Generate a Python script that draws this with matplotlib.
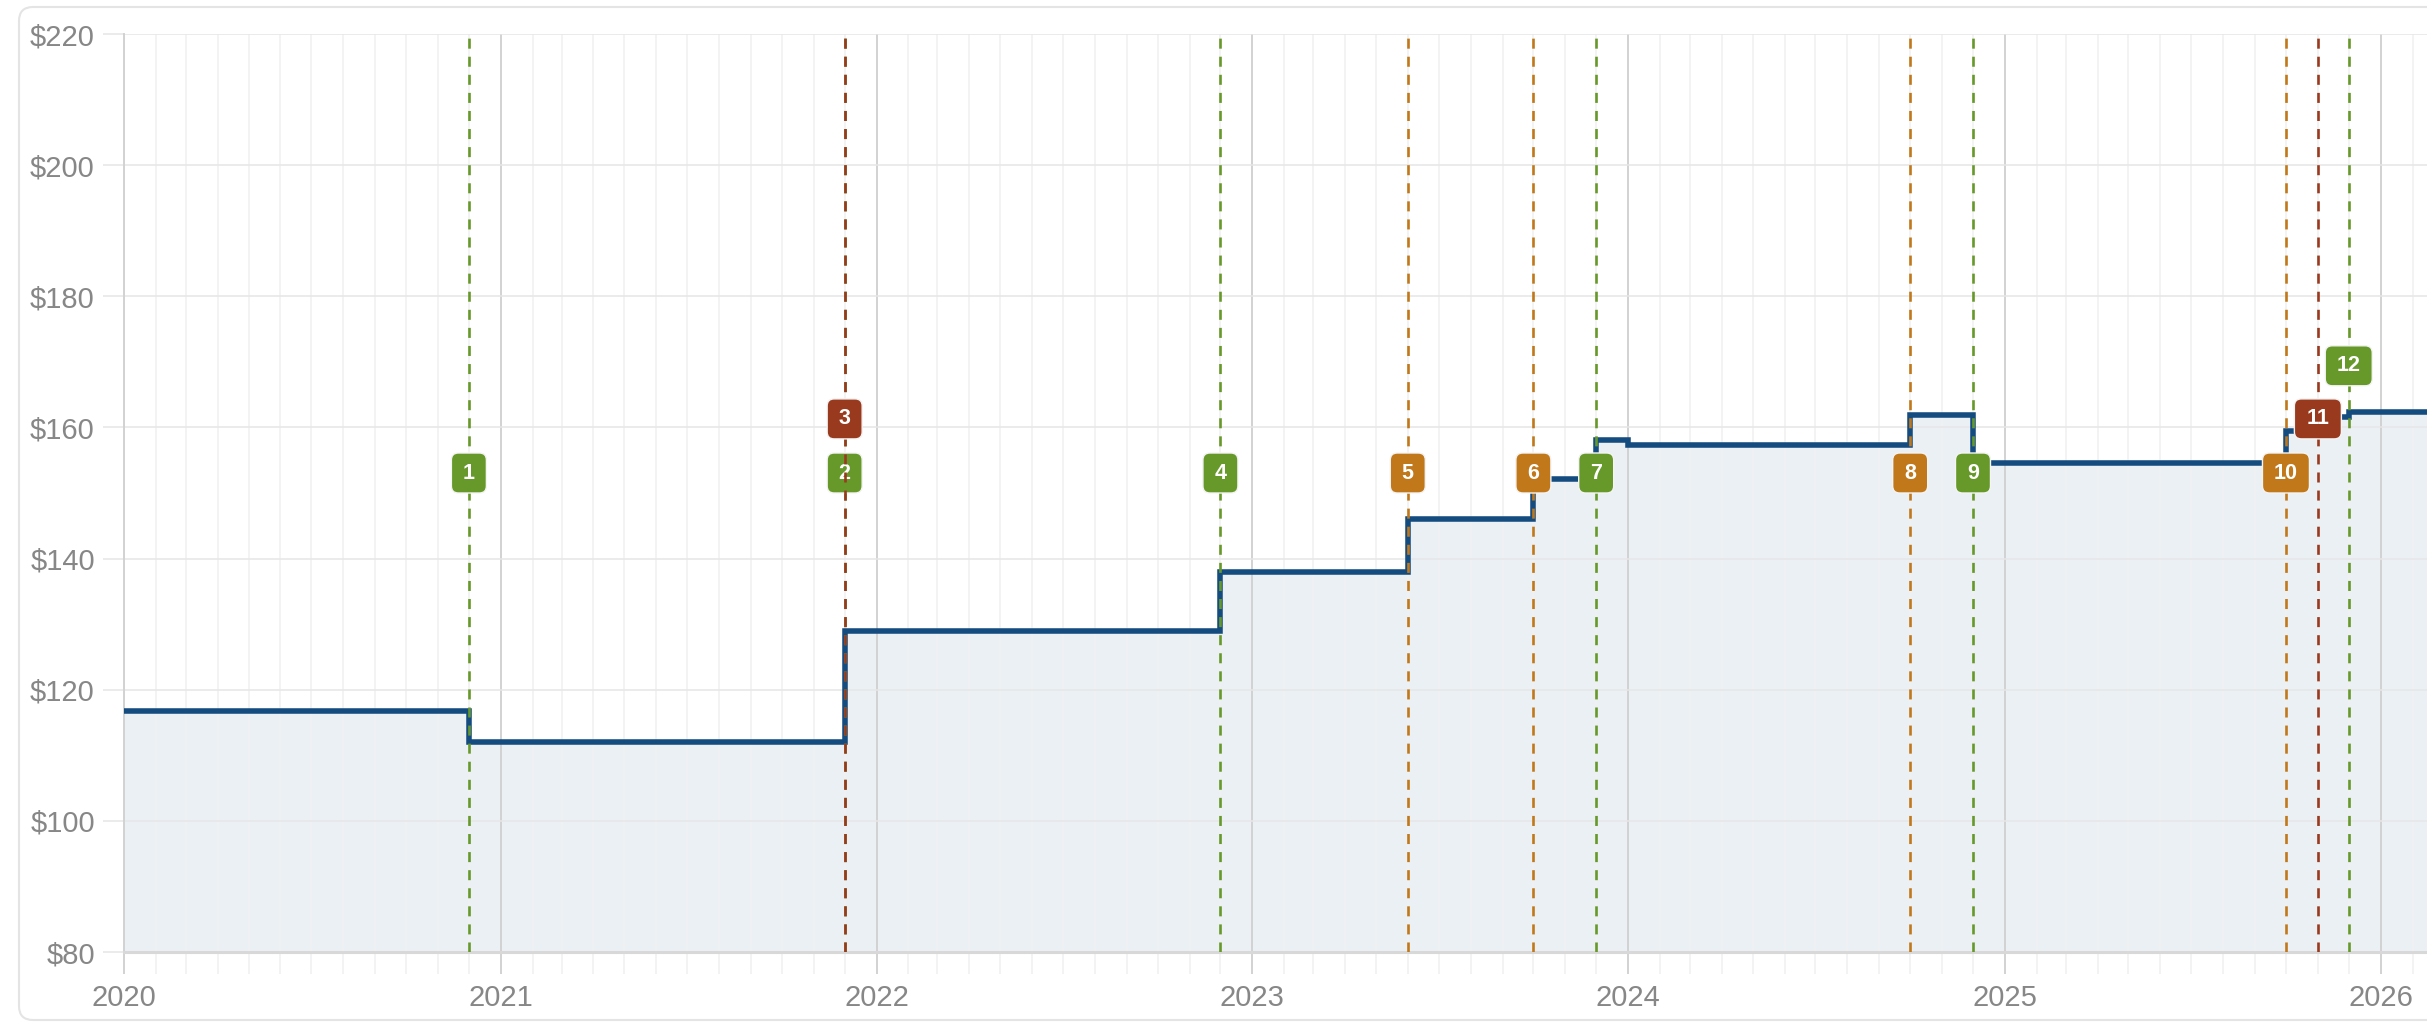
import numpy as np
import matplotlib
matplotlib.use("Agg")
import matplotlib.pyplot as plt
import matplotlib.dates as mdates
import matplotlib.transforms as mtransforms
from matplotlib.patches import FancyBboxPatch
from matplotlib.ticker import FuncFormatter, MultipleLocator
from datetime import datetime

# price steps (value holds from each date until the next one)
step_dates = ["2020-01-01", "2020-12-01", "2021-12-01", "2022-12-01", "2023-06-01",
              "2023-10-01", "2023-12-01", "2024-01-01", "2024-10-01", "2024-12-01",
              "2025-10-01", "2025-11-01", "2025-12-01"]
step_prices = [116.8, 112.1, 129.0, 138.0, 146.0, 152.1, 158.1, 157.3, 161.9, 154.5,
               159.5, 161.6, 162.4]
end_date = "2026-02-15"

# numbered events
event_nums = [1, 2, 3, 4, 5, 6, 7, 8, 9, 10, 11, 12]
event_dates = ["2020-12-01", "2021-12-01", "2021-12-01", "2022-12-01", "2023-06-01",
               "2023-10-01", "2023-12-01", "2024-10-01", "2024-12-01", "2025-10-01",
               "2025-11-01", "2025-12-01"]
event_kinds = ["green", "green", "red", "green", "orange", "orange", "green", "orange",
               "green", "orange", "red", "green"]
event_tiers = [0, 0, 1, 0, 0, 0, 0, 0, 0, 0, 1, 2]
tier_y = [153.05, 161.3, 169.4]

kind_colors = {"green": "#67992a", "orange": "#c0781a", "red": "#993a1f"}
label_color = "#878787"

plt.rcParams['font.family'] = ['Liberation Sans', 'DejaVu Sans']

W, H = 2427, 1022
fig = plt.figure(figsize=(W / 100, H / 100), dpi=100)
ax = fig.add_axes([124 / W, 70 / H, 1 - 124 / W, (952 - 34) / H])

# card border
card = FancyBboxPatch((19, 2), 2600, 1013, boxstyle="round,pad=0,rounding_size=14",
                      transform=mtransforms.IdentityTransform(), fill=False,
                      edgecolor="#e4e4e4", linewidth=1.5)
fig.patches.append(card)

x = [datetime.fromisoformat(d) for d in step_dates] + [datetime.fromisoformat(end_date)]
y = step_prices + [step_prices[-1]]

ax.fill_between(x, 80, y, step="post", color="#ebf0f5", zorder=1, linewidth=0)
ax.plot(x, y, drawstyle="steps-post", color="#154c80", linewidth=4.0, zorder=3,
        solid_joinstyle="miter")

z = 4
for n, d, k, t in zip(event_nums, event_dates, event_kinds, event_tiers):
    xd = datetime.fromisoformat(d)
    xn = mdates.date2num(xd)
    c = kind_colors[k]
    ax.axvline(xd, color=c, linewidth=1.9, dashes=(3.8, 3.05), zorder=z)
    w = 35 if n < 10 else 47
    trans = mtransforms.IdentityTransform() + mtransforms.ScaledTranslation(xn, tier_y[t], ax.transData)
    box = FancyBboxPatch((-w / 2, -20), w, 40, boxstyle="round,pad=0,rounding_size=7",
                         transform=trans, facecolor=c, edgecolor="#f4f4f4",
                         linewidth=1.0, zorder=z + 1, clip_on=False)
    ax.add_patch(box)
    ax.text(xn, tier_y[t], str(n), ha="center", va="center", color="white",
            fontsize=15.5, fontweight="bold", zorder=z + 1.5)
    z += 2

ax.set_xlim(datetime(2020, 1, 1), datetime.fromisoformat(end_date))
ax.set_ylim(80, 220)

ax.yaxis.set_major_locator(MultipleLocator(20))
ax.yaxis.set_major_formatter(FuncFormatter(lambda v, p: "$%d" % v))
ax.xaxis.set_major_locator(mdates.YearLocator())
ax.xaxis.set_major_formatter(mdates.DateFormatter("%Y"))
ax.xaxis.set_minor_locator(mdates.MonthLocator())

ax.grid(True, axis="y", color="#e6e6e6", linewidth=1.1)
ax.grid(True, axis="x", which="major", color="#d2d2d2", linewidth=1.4)
ax.grid(True, axis="x", which="minor", color="#f0f0f0", linewidth=1.1)

ax.tick_params(axis="y", length=15, width=1.1, color="#e6e6e6", pad=6,
               labelsize=21, labelcolor=label_color)
ax.tick_params(axis="x", which="major", length=16, width=1.4, color="#d2d2d2", pad=7,
               labelsize=21, labelcolor=label_color)
ax.tick_params(axis="x", which="minor", length=16, width=1.1, color="#f0f0f0")

for s in ["top", "right"]:
    ax.spines[s].set_visible(False)
ax.spines["bottom"].set_color("#d8d8d8")
ax.spines["bottom"].set_linewidth(2.2)
ax.spines["left"].set_color("#d2d2d2")
ax.spines["left"].set_linewidth(1.4)

fig.savefig("out.png", dpi=100)
